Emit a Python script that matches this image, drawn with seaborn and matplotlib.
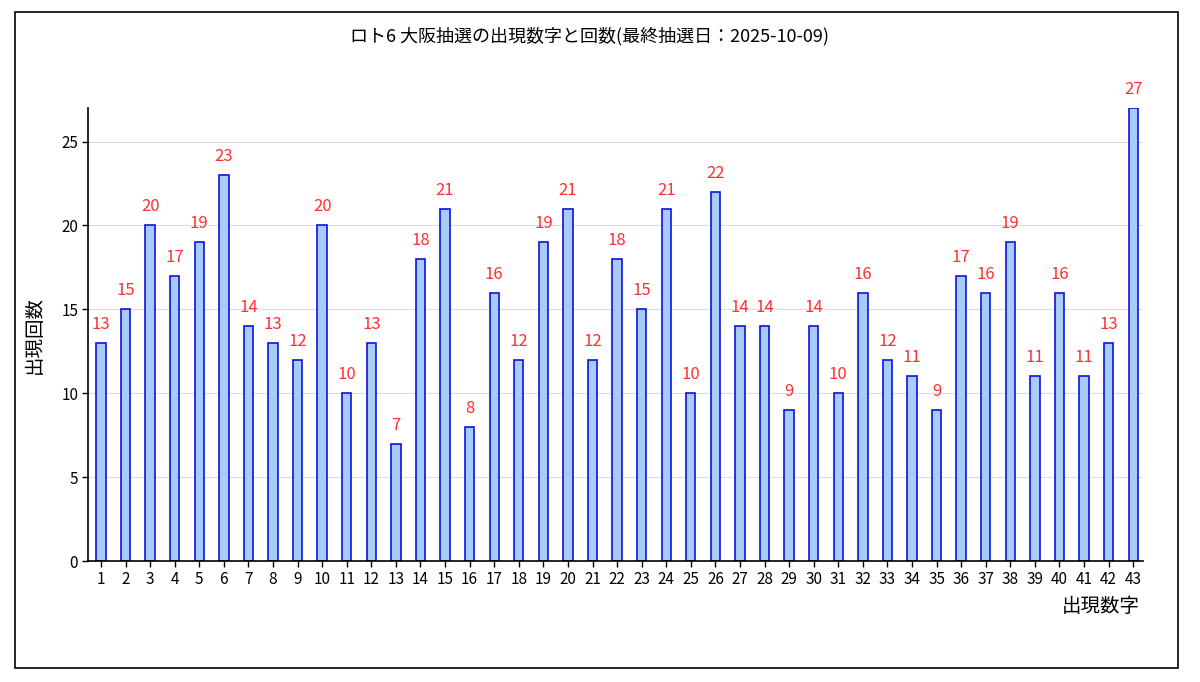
import numpy as np
import pandas as pd
import seaborn as sns
import matplotlib.pyplot as plt
from matplotlib.patches import Rectangle

numbers = [str(i) for i in range(1, 44)]
counts = [13, 15, 20, 17, 19, 23, 14, 13, 12, 20, 10, 13, 7, 18, 21, 8, 16, 12, 19, 21,
          12, 18, 15, 21, 10, 22, 14, 14, 9, 14, 10, 16, 12, 11, 9, 17, 16, 19, 11, 16,
          11, 13, 27]
title = 'ロト6 大阪抽選の出現数字と回数(最終抽選日：2025-10-09)'

sns.set_theme(style="white")
plt.rcParams['font.family'] = ['Noto Sans CJK JP', 'DejaVu Sans']
plt.rcParams['text.color'] = 'black'
plt.rcParams['axes.labelcolor'] = 'black'

df = pd.DataFrame({'num': numbers, 'count': counts})

fig = plt.figure(figsize=(12, 6.82), dpi=100)
fig.patches.append(Rectangle((15 / 1200, 1 - 668 / 682), 1163 / 1200, 656 / 682,
                             transform=fig.transFigure, fill=False, edgecolor='black', lw=1.2))
ax = fig.add_axes([0.0733, 0.1774, 0.8792, 0.6642])

sns.barplot(data=df, x='num', y='count', ax=ax, width=0.38, color='#a8ccf8',
            edgecolor='#1010e0', linewidth=1.2, saturation=1)

for i, v in enumerate(counts):
    ax.text(i, v + 0.6, str(v), color='#ff3030', ha='center', va='bottom', fontsize=12)

ax.set_ylim(0, 27)
ax.set_xlim(-0.53, 42.4)
ax.set_yticks([0, 5, 10, 15, 20, 25])
ax.yaxis.grid(True, color='#dddddd', lw=0.8)
ax.set_axisbelow(True)
for s in ['top', 'right']:
    ax.spines[s].set_visible(False)
for s in ['left', 'bottom']:
    ax.spines[s].set_color('black')
    ax.spines[s].set_linewidth(1.2)
ax.tick_params(axis='both', direction='out', length=4, width=1, colors='black',
               labelsize=11, bottom=True, left=True, pad=3)
ax.set_xlabel('')
ax.set_ylabel('出現回数', fontsize=14, labelpad=12, color='black')
fig.text(1140 / 1200, 1 - 606 / 682, '出現数字', ha='right', va='center', fontsize=14, color='black')
fig.text(590 / 1200, 1 - 36 / 682, title, ha='center', va='center', fontsize=13, color='black')

fig.savefig('out.png', dpi=100)
